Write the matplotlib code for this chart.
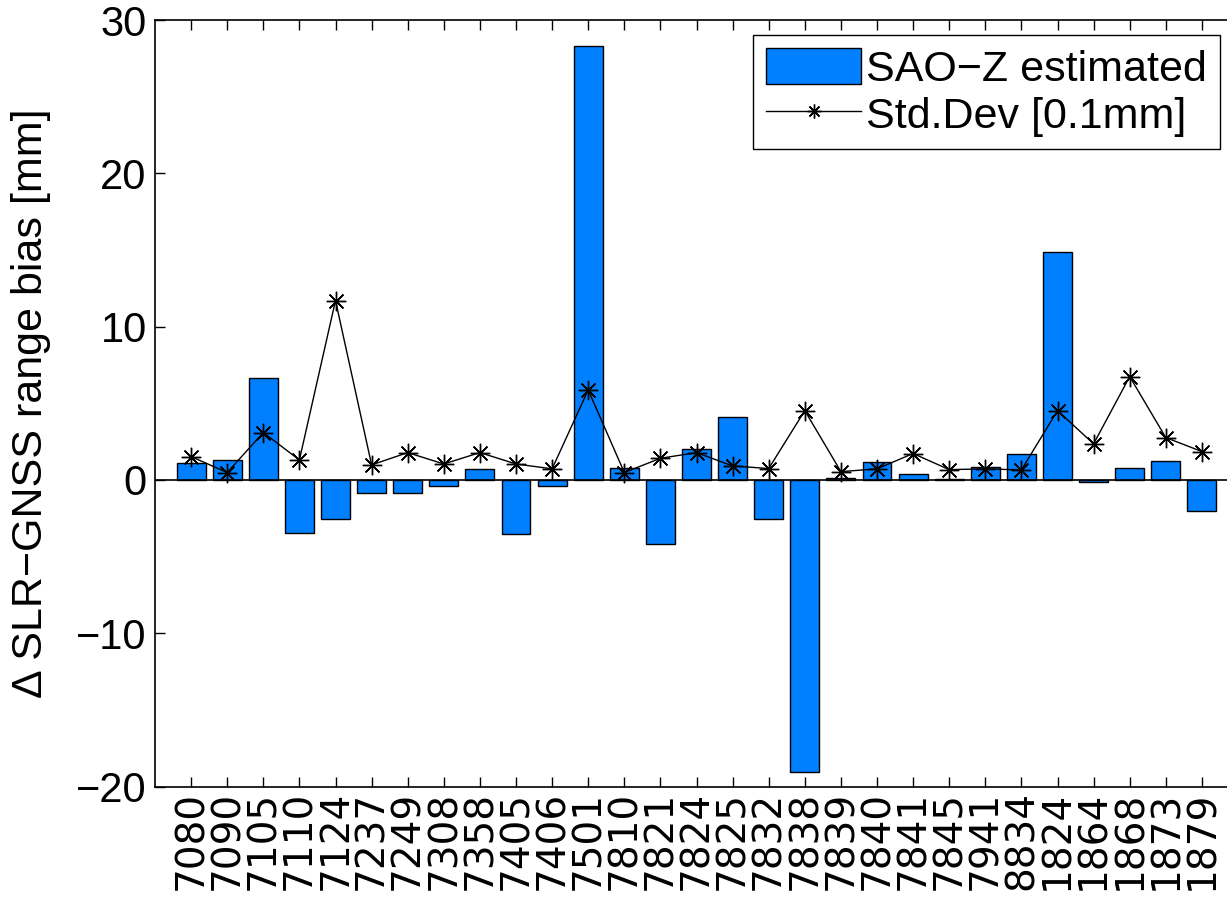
import matplotlib
matplotlib.use('Agg')
import matplotlib.pyplot as plt

stations = ['7080', '7090', '7105', '7110', '7124', '7237', '7249', '7308',
            '7358', '7405', '7406', '7501', '7810', '7821', '7824', '7825',
            '7832', '7838', '7839', '7840', '7841', '7845', '7941', '8834',
            '1824', '1864', '1868', '1873', '1879']
# SAO-Z estimated range bias [mm]
sao_z = [1.13, 1.28, 6.67, -3.48, -2.57, -0.83, -0.87, -0.41,
         0.74, -3.54, -0.43, 28.3, 0.80, -4.20, 2.04, 4.11,
         -2.52, -19.05, 0.15, 1.20, 0.37, 0.05, 0.87, 1.70,
         14.87, -0.13, 0.76, 1.26, -2.00]
# standard deviation [0.1mm]
std_dev = [1.52, 0.48, 3.09, 1.30, 11.7, 0.98, 1.78, 1.04,
           1.78, 1.04, 0.72, 5.87, 0.48, 1.41, 1.78, 0.91,
           0.74, 4.52, 0.54, 0.72, 1.72, 0.67, 0.72, 0.65,
           4.52, 2.35, 6.74, 2.76, 1.85]

x = list(range(1, len(stations) + 1))

fig = plt.figure(figsize=(12.27, 8.97), dpi=100)
ax = fig.add_axes([155 / 1227, 1 - 786.5 / 897, (1238 - 155) / 1227, (786.5 - 20) / 897])

bars = ax.bar(x, sao_z, width=0.8, color='#0080FF', edgecolor='black', linewidth=1.0,
              label='SAO\u2212Z estimated', zorder=2)
ax.axhline(0, color='black', linewidth=1.2, zorder=3)
line, = ax.plot(x, std_dev, color='black', linewidth=1.0, marker=(8, 2, 0), markersize=14,
                markeredgewidth=1.0, label='Std.Dev [0.1mm]', zorder=4)

ax.set_xlim(0, 30)
ax.set_ylim(-20, 30)
ax.set_yticks([-20, -10, 0, 10, 20, 30])
ax.set_xticks(x)
ax.set_xticklabels(stations, rotation=90, fontsize=28, family='DejaVu Sans')
for lab in ax.get_yticklabels():
    lab.set_fontsize(30)
    lab.set_family('Liberation Sans')
ax.tick_params(direction='in', length=7, width=1.0, top=True, right=True, pad=6)
ax.tick_params(axis='x', pad=3)
for s in ax.spines.values():
    s.set_linewidth(1.2)

fig.text(31 / 1227, 1 - 403 / 897, '\u0394 SLR\u2212GNSS range bias [mm]', rotation=90,
         ha='center', va='center', fontsize=31, family='Liberation Sans')

leg = ax.legend([bars, line], ['SAO\u2212Z estimated', 'Std.Dev [0.1mm]'],
                loc='upper right', bbox_to_anchor=(1220 / 1227, 1 - 35 / 897),
                bbox_transform=fig.transFigure, prop={'family': 'Liberation Sans', 'size': 31},
                fancybox=False, framealpha=1, edgecolor='black', handlelength=2.2,
                handleheight=0.9, labelspacing=0.12, borderpad=0.3, handletextpad=0.12,
                borderaxespad=0)
leg.get_frame().set_linewidth(1.0)
leg.legend_handles[1].set_markersize(10)

fig.savefig('out.png', dpi=100)
